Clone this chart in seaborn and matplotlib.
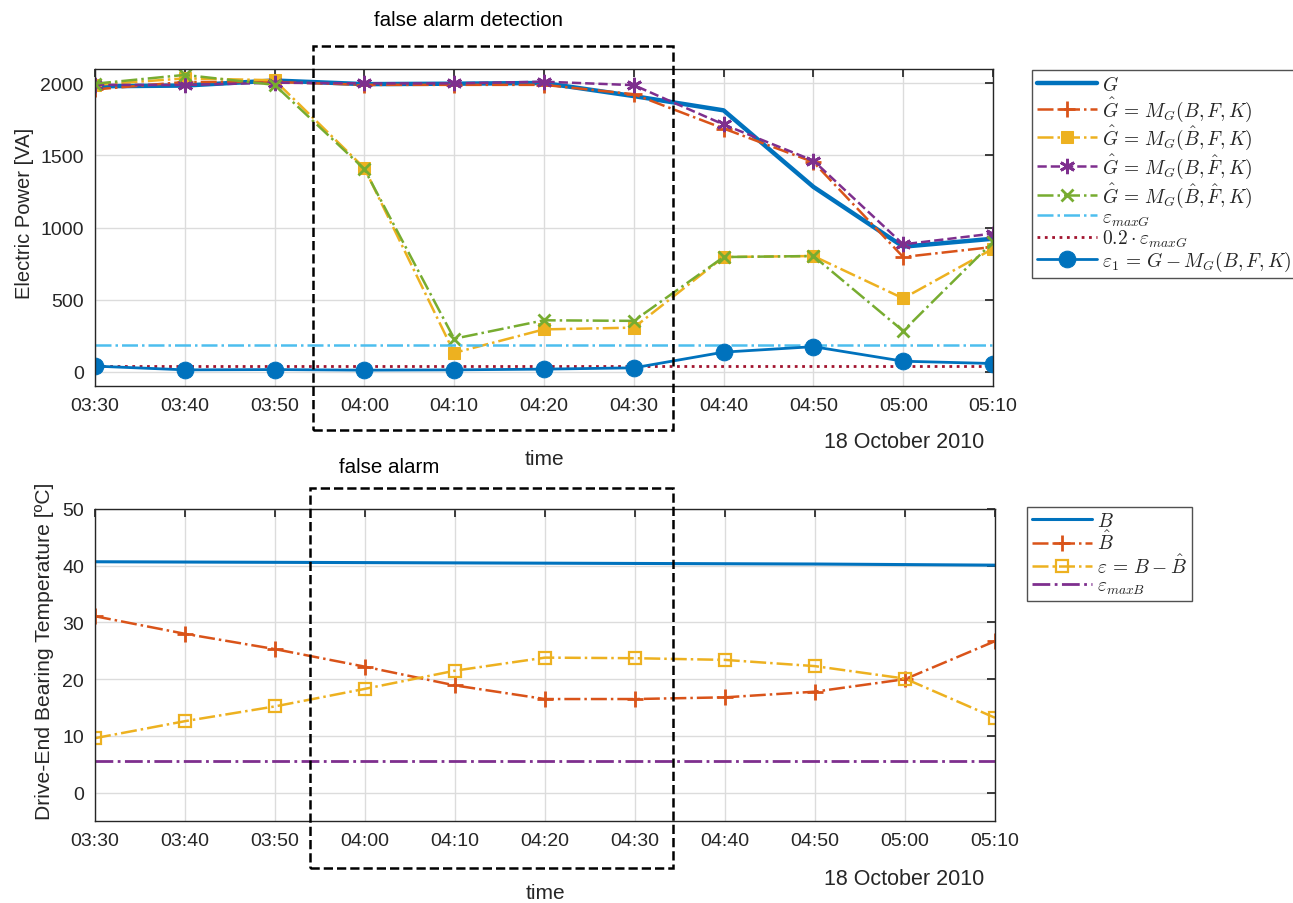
import numpy as np
import pandas as pd
import matplotlib
matplotlib.use("Agg")
import matplotlib.pyplot as plt
import seaborn as sns
from matplotlib.patches import Rectangle

# ---------------- data ----------------
time_labels = ["03:30", "03:40", "03:50", "04:00", "04:10", "04:20",
               "04:30", "04:40", "04:50", "05:00", "05:10"]
minutes = [0, 10, 20, 30, 40, 50, 60, 70, 80, 90, 100]

G = [1980, 1985, 2020, 1995, 1998, 2003, 1912, 1813, 1282, 867, 922]
G_hat_BFK = [1958, 2010, 2010, 1990, 1990, 1990, 1925, 1687, 1454, 795, 865]
G_hat_BhFK = [1990, 2035, 2022, 1412, 130, 293, 305, 795, 802, 508, 853]
G_hat_BFhK = [1990, 1989, 2005, 2000, 2000, 2012, 1988, 1715, 1464, 883, 958]
G_hat_BhFhK = [1998, 2059, 1990, 1405, 228, 356, 352, 795, 802, 282, 900]
eps_maxG = [182] * 11
eps_maxG_02 = [36.5] * 11
eps1 = [38, 12, 14, 10, 12, 17, 26, 135, 173, 72, 56]

B = [40.7, 40.65, 40.6, 40.55, 40.5, 40.45, 40.4, 40.35, 40.3, 40.2, 40.1]
B_hat = [31.1, 28.0, 25.3, 22.2, 18.9, 16.5, 16.5, 16.8, 17.8, 20.0, 26.7]
eps_B = [9.6, 12.6, 15.2, 18.3, 21.5, 23.8, 23.7, 23.4, 22.3, 20.1, 13.2]
eps_maxB = [5.5] * 11

top_yticks = [0, 500, 1000, 1500, 2000]
bot_yticks = [0, 10, 20, 30, 40, 50]

# ---------------- style ----------------
sns.set_theme(style="white")
plt.rcParams['font.family'] = ['Liberation Sans', 'DejaVu Sans']
plt.rcParams['mathtext.fontset'] = 'cm'

c_blue = "#0072BD"
c_orange = "#D95319"
c_yellow = "#EDB120"
c_purple = "#7E2F8E"
c_green = "#77AC30"
c_lblue = "#4DBEEE"
c_dred = "#A2142F"

fig = plt.figure(figsize=(12.93, 9.04), dpi=100)
W, H = 1293, 904
ax1 = fig.add_axes([95 / W, 1 - 387 / H, (993 - 95) / W, (387 - 70) / H])
ax2 = fig.add_axes([95 / W, 1 - 822 / H, (995 - 95) / W, (822 - 510) / H])

x = np.array(minutes)

# ---------------- top panel ----------------
sns.lineplot(x=x, y=G, ax=ax1, color=c_blue, lw=3.2, label=r'$G$')
sns.lineplot(x=x, y=G_hat_BFK, ax=ax1, color=c_orange, lw=1.8, linestyle='-.',
             marker='+', markersize=11, markeredgewidth=2,
             markeredgecolor=c_orange, label=r'$\hat{G}\,=\,M_G(B,F,K)$')
sns.lineplot(x=x, y=G_hat_BhFK, ax=ax1, color=c_yellow, lw=1.8, linestyle='-.',
             marker='s', markersize=9, markeredgecolor=c_yellow,
             label=r'$\hat{G}\,=\,M_G(\hat{B},F,K)$')
sns.lineplot(x=x, y=G_hat_BFhK, ax=ax1, color=c_purple, lw=1.8, linestyle='--',
             marker=(6, 2, 0), markersize=11, markeredgewidth=2,
             markeredgecolor=c_purple, label=r'$\hat{G}\,=\,M_G(B,\hat{F},K)$')
sns.lineplot(x=x, y=G_hat_BhFhK, ax=ax1, color=c_green, lw=1.8, linestyle='-.',
             marker='x', markersize=9, markeredgewidth=2,
             markeredgecolor=c_green, label=r'$\hat{G}\,=\,M_G(\hat{B},\hat{F},K)$')
sns.lineplot(x=x, y=eps_maxG, ax=ax1, color=c_lblue, lw=1.8, linestyle='-.',
             label=r'$\varepsilon_{maxG}$')
sns.lineplot(x=x, y=eps_maxG_02, ax=ax1, color=c_dred, lw=2, linestyle=':',
             label=r'$\mathit{0.2}\cdot\varepsilon_{maxG}$')
sns.lineplot(x=x, y=eps1, ax=ax1, color=c_blue, lw=2, marker='o', markersize=12,
             markeredgecolor=c_blue, label=r'$\varepsilon_1\,=\,G-M_G(B,F,K)$')

ax1.set_xlim(0, 100)
ax1.set_ylim(-100, 2100)
ax1.set_yticks(top_yticks)
ax1.set_xticks(minutes)
ax1.set_xticklabels(time_labels)
ax1.set_ylabel("Electric Power [VA]", fontsize=14.5)
ax1.set_xlabel("time", fontsize=15)
ax1.yaxis.set_label_coords(-0.068, 0.549)
ax1.xaxis.set_label_coords(0.5, -0.2)

# ---------------- bottom panel ----------------
sns.lineplot(x=x, y=B, ax=ax2, color=c_blue, lw=2.2, label=r'$B$')
sns.lineplot(x=x, y=B_hat, ax=ax2, color=c_orange, lw=1.8, linestyle='-.',
             marker='+', markersize=11, markeredgewidth=2,
             markeredgecolor=c_orange, label=r'$\hat{B}$')
sns.lineplot(x=x, y=eps_B, ax=ax2, color=c_yellow, lw=1.8, linestyle='-.',
             marker='s', markersize=9, markerfacecolor='none',
             markeredgecolor=c_yellow, markeredgewidth=1.6,
             label=r'$\varepsilon\,=\,B-\hat{B}$')
sns.lineplot(x=x, y=eps_maxB, ax=ax2, color=c_purple, lw=2, linestyle='-.',
             label=r'$\varepsilon_{maxB}$')

ax2.set_xlim(0, 100)
ax2.set_ylim(-5, 50)
ax2.set_yticks(bot_yticks)
ax2.set_xticks(minutes)
ax2.set_xticklabels(time_labels)
ax2.set_ylabel("Drive-End Bearing Temperature [ºC]", fontsize=15.2)
ax2.set_xlabel("time", fontsize=15)
ax2.yaxis.set_label_coords(-0.045, 0.548)
ax2.xaxis.set_label_coords(0.5, -0.2)

for ax in (ax1, ax2):
    ax.grid(True, color='#dcdcdc', lw=1)
    ax.tick_params(axis='both', which='both', direction='in', top=True,
                   right=True, labelsize=14, length=6, color='#262626',
                   pad=8, labelcolor='#262626')
    for sp in ax.spines.values():
        sp.set_visible(True)
        sp.set_color('#262626')
        sp.set_linewidth(1)

leg_kw = dict(bbox_transform=fig.transFigure, fontsize=14, frameon=True,
              fancybox=False, edgecolor='#262626', handlelength=3.1,
              borderaxespad=0, labelspacing=0.0, handletextpad=0.25,
              borderpad=0.25)
leg1 = ax1.legend(loc='upper left', bbox_to_anchor=(1032 / W, 1 - 71 / H), **leg_kw)
leg1.get_frame().set_linewidth(1)
leg2 = ax2.legend(loc='upper left', bbox_to_anchor=(1027 / W, 1 - 508 / H), **leg_kw)
leg2.get_frame().set_linewidth(1)

# annotations: dashed boxes and texts
fig.add_artist(Rectangle((313 / W, 1 - 431 / H), (673 - 313) / W, (431 - 47) / H,
                         transform=fig.transFigure, fill=False, ls='--',
                         lw=1.8, edgecolor='black'))
fig.add_artist(Rectangle((310 / W, 1 - 869 / H), (673 - 310) / W, (869 - 489) / H,
                         transform=fig.transFigure, fill=False, ls='--',
                         lw=1.8, edgecolor='black'))
fig.text(468 / W, 1 - 20 / H, "false alarm detection", ha='center', va='center',
         fontsize=14.8, color='black')
fig.text(389 / W, 1 - 468 / H, "false alarm", ha='center', va='center',
         fontsize=14.8, color='black')
fig.text(904 / W, 1 - 443 / H, "18 October 2010", ha='center', va='center',
         fontsize=15.5, color='#262626')
fig.text(904 / W, 1 - 880 / H, "18 October 2010", ha='center', va='center',
         fontsize=15.5, color='#262626')

fig.savefig("out.png", dpi=100)
